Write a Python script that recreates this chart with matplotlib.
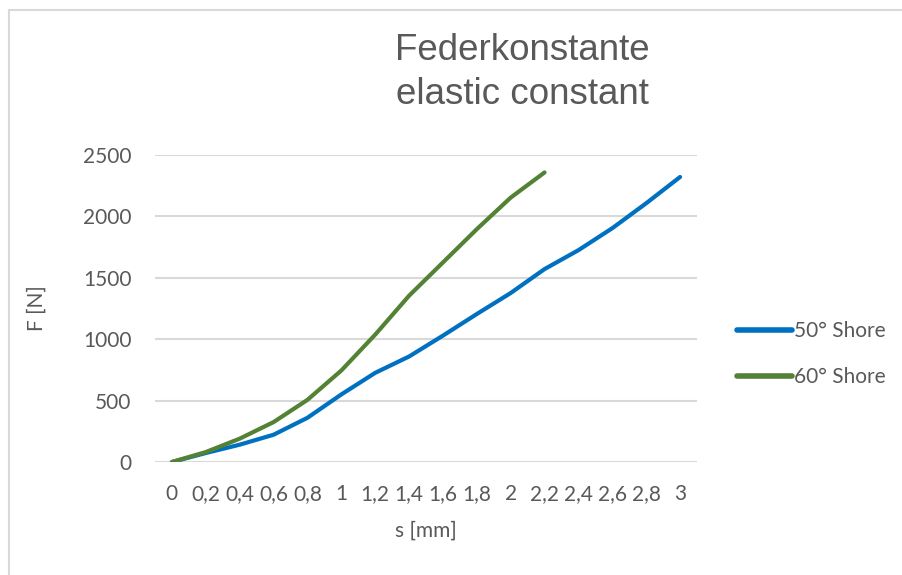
import matplotlib
matplotlib.use('Agg')
import matplotlib.pyplot as plt
from matplotlib.patches import Rectangle
import numpy as np

# displacement categories (Excel category axis, comma decimals)
s_labels = ["0", "0,2", "0,4", "0,6", "0,8", "1", "1,2", "1,4", "1,6", "1,8",
            "2", "2,2", "2,4", "2,6", "2,8", "3"]

# force readings [N]
f_50_shore = [0, 73, 141, 222, 360, 550, 726, 859, 1029, 1205, 1376, 1571,
              1725, 1904, 2107, 2321]
f_60_shore = [0, 81, 190, 325, 506, 745, 1037, 1354, 1625, 1896, 2153, 2358]

y_ticks = [0, 500, 1000, 1500, 2000, 2500]

grey_txt = '#595959'
tick_font = 'Lato'

fig = plt.figure(figsize=(9.03, 5.75), dpi=100)
W, H = 903, 575
ax = fig.add_axes([155 / W, 1 - 462 / H, (697 - 155) / W, (462 - 155) / H])

x = np.arange(len(s_labels))
ax.plot(x[:len(f_50_shore)], f_50_shore, color='#0070C0', lw=3,
        solid_capstyle='round', solid_joinstyle='round', label='50° Shore', zorder=3)
ax.plot(x[:len(f_60_shore)], f_60_shore, color='#548235', lw=3,
        solid_capstyle='round', solid_joinstyle='round', label='60° Shore', zorder=4)

ax.set_xlim(-0.5, len(s_labels) - 0.5)
ax.set_ylim(0, 2500)
ax.set_yticks(y_ticks)
ax.set_xticks(x)
ax.set_xticklabels(s_labels)
ax.yaxis.grid(True, color='#d9d9d9', lw=1.5)
ax.set_axisbelow(True)
for sp in ax.spines.values():
    sp.set_visible(False)
ax.tick_params(axis='both', length=0, labelsize=15, labelcolor=grey_txt)
ax.tick_params(axis='y', pad=17)
ax.tick_params(axis='x', pad=16)
for lbl in ax.get_xticklabels() + ax.get_yticklabels():
    lbl.set_fontfamily(tick_font)

ax.set_xlabel('s [mm]', fontsize=15, color=grey_txt, family=tick_font, labelpad=12)
ax.set_ylabel('F [N]', fontsize=15, color=grey_txt, family=tick_font, labelpad=26)

fig.text(522 / W, 1 - 33 / H, 'Federkonstante\nelastic constant', ha='center', va='top',
         fontsize=26.5, color=grey_txt, family='Liberation Sans', linespacing=1.32)

leg = fig.legend(loc='center left', bbox_to_anchor=(718 / W, 1 - 354 / H), frameon=False,
                 handlelength=2.65, handletextpad=0.1, labelspacing=1.25,
                 prop={'family': tick_font, 'size': 15})
for t in leg.get_texts():
    t.set_color(grey_txt)
for h in leg.legend_handles:
    h.set_linewidth(4)

# chart border, only left/top visible in the crop
fig.patches.append(Rectangle((8.5 / W, -0.1), 1.2, 1.1 - 9.5 / H, transform=fig.transFigure,
                             fill=False, edgecolor='#d9d9d9', lw=1.5))

fig.savefig('out.png', dpi=100)
